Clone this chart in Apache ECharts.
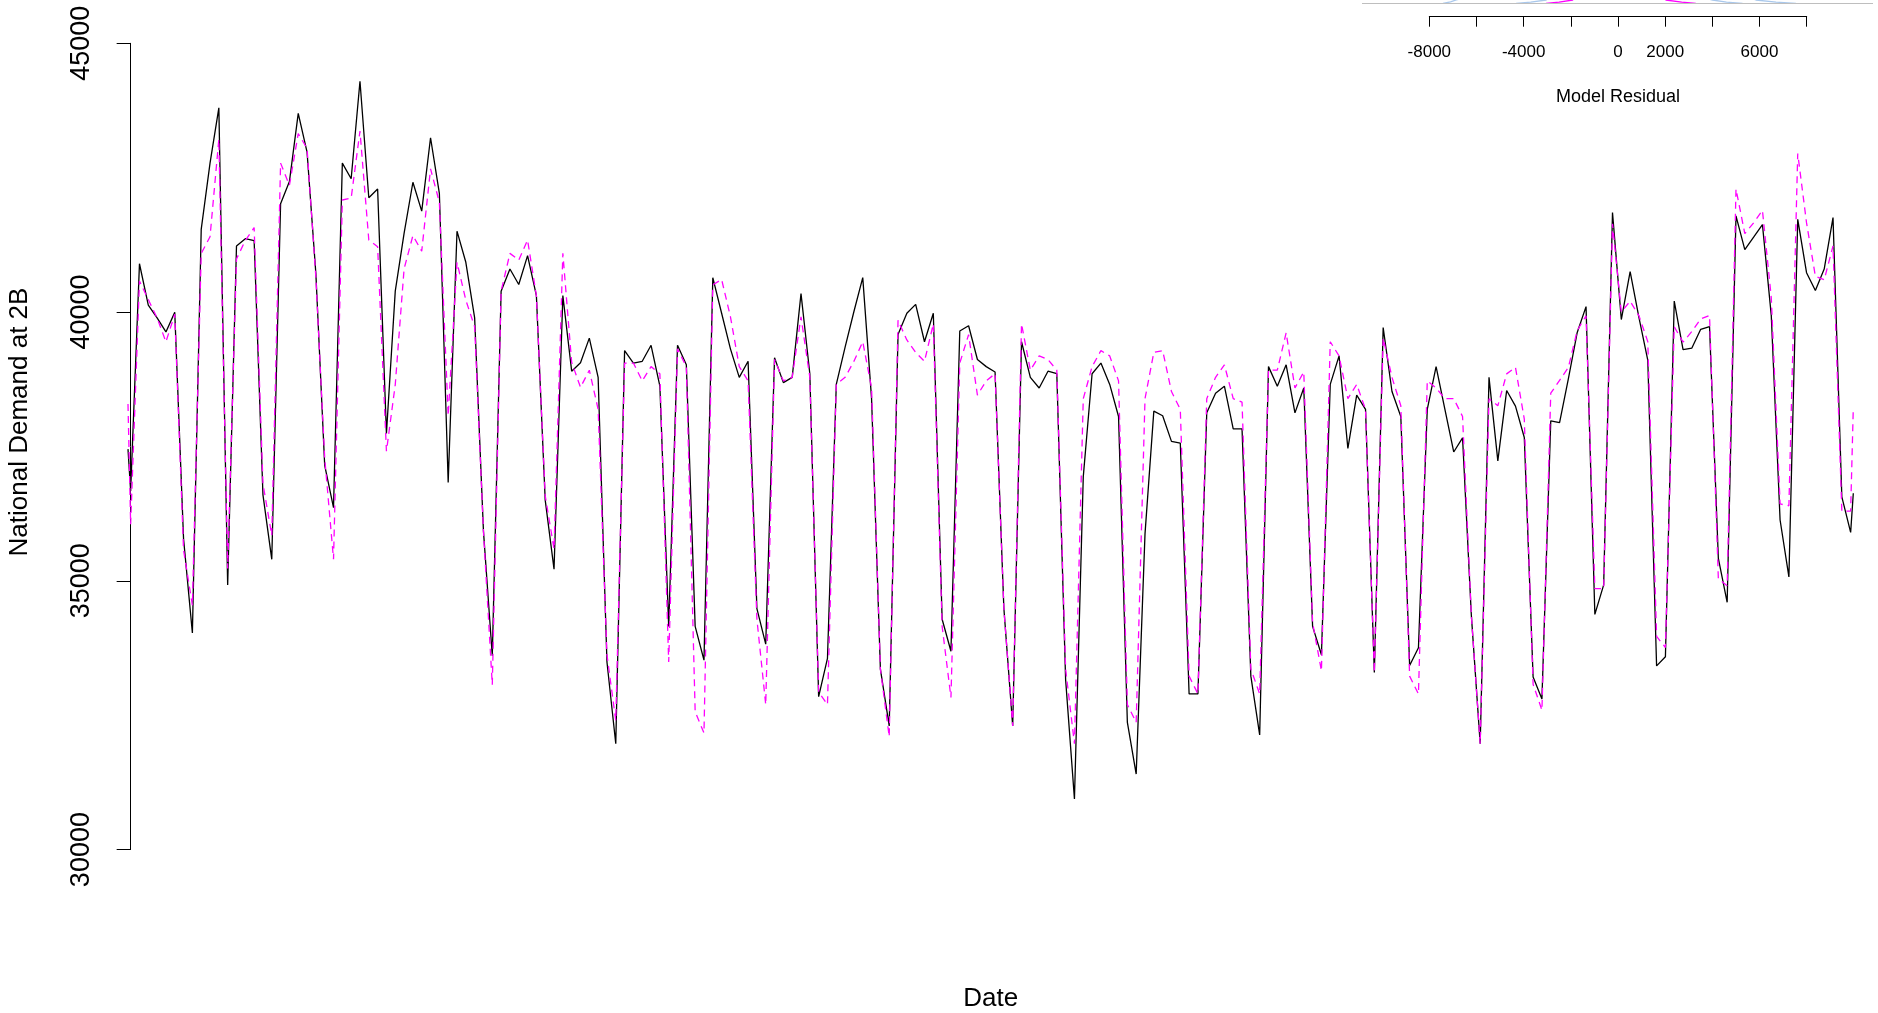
<!DOCTYPE html>
<html>
<head>
<meta charset="utf-8">
<script src="https://cdn.jsdelivr.net/npm/echarts@6/dist/echarts.min.js"></script>
<style>
html,body{margin:0;padding:0;background:#fff;}
#chart{width:1878px;height:1013px;}
</style>
</head>
<body>
<div id="chart"></div>
<script>
// ---- main series: daily national demand (actual) and model fit ----
const actual = [
36670,40899,40131,39891,39631,39994,35778,34029,41537,42771,
43799,34921,41228,41365,41331,36600,35400,42017,42428,43696,
42977,40714,37149,36361,42771,42480,44293,42126,42291,37741,
40389,41464,42415,41878,43243,42209,36831,41505,40926,39892,
35921,33605,40388,40802,40513,41050,40306,36500,35218,40306,
38900,39058,39515,38786,33491,31969,39283,39051,39084,39382,
38621,34153,39382,39018,34153,33524,40640,39978,39316,38786,
39084,34484,33822,39151,38687,38786,40342,38853,32846,33558,
38654,39349,40011,40640,38389,33359,32300,39581,39978,40143,
39448,39978,34286,33690,39647,39746,39117,38985,38886,34484,
32300,39448,38786,38588,38900,38853,33160,30943,36933,38853,
39051,38654,38058,32366,31406,35874,38158,38072,37595,37562,
32896,32896,38125,38489,38621,37827,37827,33227,32134,38985,
38621,39018,38125,38588,34153,33624,38654,39184,37463,38456,
38191,33293,39713,38522,38058,33425,33756,38191,38985,38191,
37397,37661,34352,31969,38786,37231,38540,38250,37667,33211,
32800,37976,37942,38764,39621,40101,34376,34925,41850,39861,
40753,39896,39107,33417,33588,40204,39300,39330,39680,39730,
35420,34600,41790,41163,41394,41626,39938,36132,35073,41725,
40732,40401,40799,41758,36562,35900
];
const model = [
36052,40577,40234,39891,39446,39960,35572,34544,41091,41400,
43216,35229,40988,41331,41571,36806,35846,42771,42359,43319,
43045,40645,37286,35401,42085,42120,43367,41340,41216,37410,
38651,40802,41423,41133,42664,42043,38072,40926,40223,39727,
35921,33067,40388,41092,40968,41340,40306,36583,35590,41092,
39065,38600,38919,38191,33624,32399,39051,39051,38720,38985,
38853,33491,39316,38985,32565,32168,40507,40607,39912,38985,
38720,34286,32697,39117,38720,38786,39912,38786,32930,32697,
38654,38786,39084,39448,38588,33359,32101,39846,39481,39250,
39084,39779,34153,32829,39051,39581,38456,38720,38853,34484,
32300,39779,38919,39184,39117,38919,33359,31969,38389,38985,
39283,39184,38720,32697,32366,38389,39250,39283,38522,38191,
33227,32896,38389,38786,39018,38389,38323,33359,32896,38919,
38919,39614,38588,38886,34220,33326,39448,39184,38389,38654,
38191,33293,39515,38786,38257,33227,32896,38720,38588,38389,
38389,38058,34352,31969,38389,38257,38850,38970,38010,33074,
32594,38490,38730,38970,39656,39930,34856,34856,41644,39998,
40204,39930,39450,33965,33760,39724,39442,39640,39872,39938,
35040,34908,42288,41460,41659,41891,40269,36430,36397,42950,
41659,40666,40600,41229,36298,36298
];
// partial first / last readings (day offsets)
const firstReading = {day: -0.3, actual: 37450, model: 38290};
const lastReading  = {day: 195.3, actual: 36630, model: 38220};

// y axis ticks of main plot
const yTicks = [30000, 35000, 40000, 45000];

// ---- inset: density of model residuals ----
const insetTicks = [-8000, -6000, -4000, -2000, 0, 2000, 4000, 6000, 8000];
const insetTickLabels = [-8000, -4000, 0, 2000, 6000];
const wideX = [-7420, -7100, -6860, -6000, -4000, -2000, 0, 2000, 4000, 5200, 5850, 6700, 7540];
const wideD = [0.0, 0.025, 0.055, 0.15, 0.45, 0.8, 0.9, 0.8, 0.4, 0.15, 0.055, 0.02, 0.0];
const medX  = [-4320, -3700, -3050, -2000, -1000, 0, 1000, 2000, 3000, 4010, 4600, 5280];
const medD  = [0.0, 0.02, 0.055, 0.3, 0.9, 1.2, 0.9, 0.4, 0.15, 0.055, 0.02, 0.0];
const magX  = [-3050, -2500, -1920, -1000, 0, 1000, 2030, 2700, 3300];
const magD  = [0.0, 0.02, 0.055, 0.8, 1.6, 0.9, 0.055, 0.02, 0.0];

// ---- build series data ----
function pairs(vals, key){
  const out = [[firstReading.day, firstReading[key]]];
  vals.forEach((v,i)=>out.push([i, v]));
  out.push([lastReading.day, lastReading[key]]);
  return out;
}
const zip = (xs, ys) => xs.map((x,i)=>[x, ys[i]]);

const FONT = '"Liberation Sans", Arial, sans-serif';
const chart = echarts.init(document.getElementById('chart'), null, {renderer:'canvas'});
const option = {
  animation: false,
  backgroundColor: '#ffffff',
  textStyle: {fontFamily: FONT},
  grid: [
    {left: 128, top: 43.3, right: 24.7, bottom: 163.4, outerBoundsMode: 'none', containLabel: false},
    {left: 1429.3, width: 377.4, top: -100, height: 116, outerBoundsMode: 'none', containLabel: false},
    {left: 1362, right: 5, top: -176.7, bottom: 997, outerBoundsMode: 'none', containLabel: false}
  ],
  xAxis: [
    {gridIndex: 0, type: 'value', min: firstReading.day, max: lastReading.day,
     name: 'Date', nameLocation: 'middle', nameGap: 136.5,
     nameTextStyle: {fontSize: 26, color: '#000', fontFamily: FONT},
     axisLine: {show: false}, axisTick: {show: false}, axisLabel: {show: false}, splitLine: {show: false}},
    {gridIndex: 1, type: 'value', min: insetTicks[0], max: insetTicks[insetTicks.length-1], interval: 2000,
     name: 'Model Residual', nameLocation: 'middle', nameGap: 72.5,
     nameTextStyle: {fontSize: 18, color: '#000', fontFamily: FONT},
     axisLine: {show: true, lineStyle: {color: '#000', width: 1}},
     axisTick: {show: true, length: 10.7, lineStyle: {color: '#000', width: 1}},
     axisLabel: {show: true, fontSize: 17, color: '#000', margin: 27.5, fontFamily: FONT,
       showMinLabel: true, showMaxLabel: true, hideOverlap: false,
       formatter: v => insetTickLabels.includes(v) ? String(v) : ''},
     splitLine: {show: false}},
    {gridIndex: 2, type: 'value', min: -10852, max: 10809, show: false}
  ],
  yAxis: [
    {gridIndex: 0, type: 'value', min: yTicks[0], max: yTicks[yTicks.length-1], interval: 5000,
     axisLine: {show: true, lineStyle: {color: '#000', width: 1}},
     axisTick: {show: true, length: 14, lineStyle: {color: '#000', width: 1}},
     axisLabel: {show: true, rotate: 90, margin: 33, fontSize: 27, color: '#000', fontFamily: FONT,
       showMinLabel: true, showMaxLabel: true, formatter: v => String(v)},
     splitLine: {show: false}},
    {gridIndex: 1, type: 'value', min: 0, max: 1, show: false},
    {gridIndex: 2, type: 'value', min: -0.2117, max: 3, show: false}
  ],
  graphic: [
    {type: 'text', x: 20, y: 422, rotation: Math.PI/2,
     style: {text: 'National Demand at 2B', font: '26px ' + FONT, fill: '#000',
       align: 'center', verticalAlign: 'middle', textAlign: 'center', textVerticalAlign: 'middle'}}
  ],
  series: [
    {name: 'actual', type: 'line', xAxisIndex: 0, yAxisIndex: 0, data: pairs(actual, 'actual'),
     symbol: 'none', lineStyle: {color: '#000000', width: 1.3}, z: 2},
    {name: 'model', type: 'line', xAxisIndex: 0, yAxisIndex: 0, data: pairs(model, 'model'),
     symbol: 'none', lineStyle: {color: '#ff00ff', width: 1.3, type: [7, 5]}, z: 3},
    {name: 'wide', type: 'line', xAxisIndex: 2, yAxisIndex: 2, data: zip(wideX, wideD),
     symbol: 'none', lineStyle: {color: '#a9c8ec', width: 1.3}, z: 2,
     markLine: {symbol: 'none', silent: true, label: {show: false},
       lineStyle: {color: '#bebebe', width: 1, type: 'solid'}, data: [{yAxis: 0}]}},
    {name: 'med', type: 'line', xAxisIndex: 2, yAxisIndex: 2, data: zip(medX, medD),
     symbol: 'none', lineStyle: {color: '#a9c8ec', width: 1.3}, z: 2},
    {name: 'mag', type: 'line', xAxisIndex: 2, yAxisIndex: 2, data: zip(magX, magD),
     symbol: 'none', lineStyle: {color: '#ff00ff', width: 1.3}, z: 3}
  ]
};
chart.setOption(option);
</script>
</body>
</html>
